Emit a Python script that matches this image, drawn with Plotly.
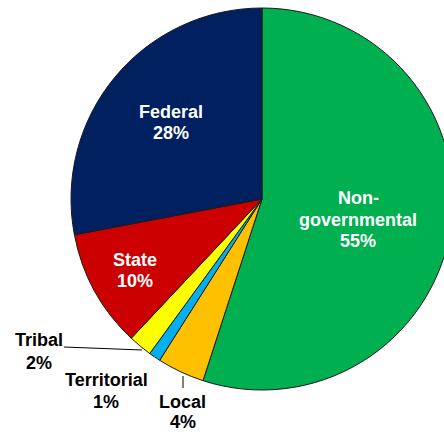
import plotly.graph_objects as go

labels = ["Non-governmental", "Local", "Territorial", "Tribal", "State", "Federal"]
values = [55, 4, 1, 2, 10, 28]
colors = ["#00B050", "#FFC000", "#00B0F0", "#FFFF00", "#CC0000", "#002060"]
label_lines = {
    "Non-governmental": ["Non-", "governmental", "55%"],
    "Federal": ["Federal", "28%"],
    "State": ["State", "10%"],
    "Tribal": ["Tribal", "2%"],
    "Territorial": ["Territorial", "1%"],
    "Local": ["Local", "4%"],
}

W, H = 480, 432

fig = go.Figure(go.Pie(
    labels=labels, values=values, sort=False, direction="clockwise", rotation=0,
    marker=dict(colors=colors, line=dict(color="#1a1a1a", width=1)),
    textinfo="none", hoverinfo="label+percent", showlegend=False,
    domain=dict(x=[71 / W, 453 / W], y=[(H - 390) / H, (H - 8) / H]),
))

FAM = "Liberation Sans, Arial, sans-serif"

def ann_lines(name, x, ys, color):
    for txt, y in zip(label_lines[name], ys):
        fig.add_annotation(text="<b>%s</b>" % txt, x=x / W, y=1 - y / H,
                           xref="paper", yref="paper", xanchor="center", yanchor="middle",
                           showarrow=False, font=dict(family=FAM, size=18, color=color))

ann_lines("Non-governmental", 358, [198, 220, 241], "white")
ann_lines("Federal", 171, [112, 133], "white")
ann_lines("State", 135, [260, 281], "white")
ann_lines("Tribal", 38.5, [339.5, 363], "black")
ann_lines("Territorial", 106, [379.5, 402], "black")
ann_lines("Local", 182.5, [401.5, 422], "black")

fig.add_shape(type="line", xref="paper", yref="paper",
              x0=64 / W, y0=1 - 347 / H, x1=142 / W, y1=1 - 350 / H,
              line=dict(color="black", width=1))
fig.add_shape(type="line", xref="paper", yref="paper",
              x0=183 / W, y0=1 - 376 / H, x1=183 / W, y1=1 - 388 / H,
              line=dict(color="black", width=1))

fig.update_layout(width=W, height=H, margin=dict(l=0, r=0, t=0, b=0),
                  paper_bgcolor="white", plot_bgcolor="white")

fig.write_html("out.html", config={"displayModeBar": False},
               post_script="document.body.style.margin='0';document.body.style.overflow='hidden';")
